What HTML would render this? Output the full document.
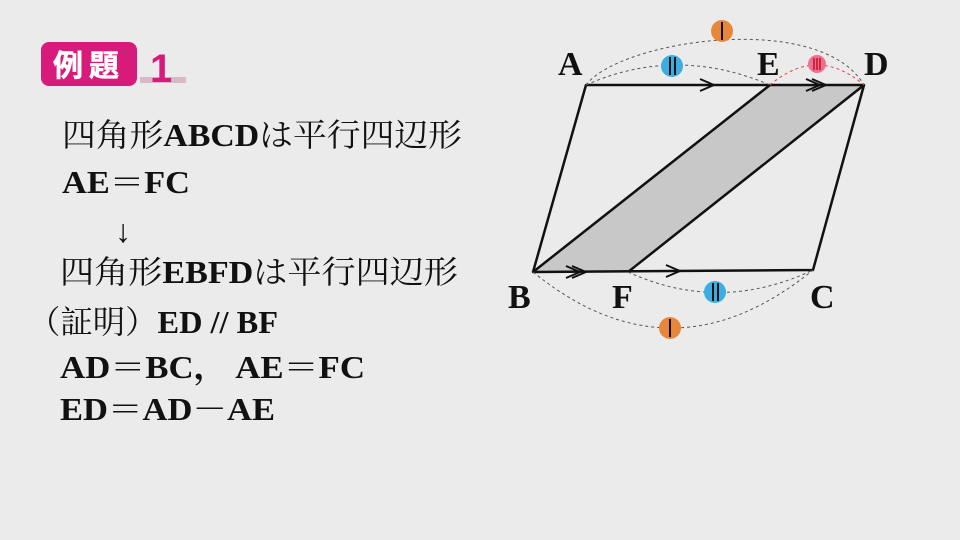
<!DOCTYPE html>
<html><head><meta charset="utf-8"><style>
html,body{margin:0;padding:0;background:#ebebeb;}
svg{display:block}
.t{font-family:"Liberation Serif","Noto Serif CJK SC","Noto Sans CJK JP",serif;font-size:32px;fill:#111}
.b{font-weight:bold}
.L{font-family:"Liberation Serif",serif;font-weight:bold;font-size:34px;fill:#111}
</style></head><body>
<svg width="960" height="540" viewBox="0 0 960 540">
<rect width="960" height="540" fill="#ebebeb"/>
<rect x="140" y="77" width="46" height="6" fill="#d9b8c8"/>
<rect x="41" y="42" width="96" height="44" rx="8" fill="#d81b7a"/>
<text x="89" y="76" text-anchor="middle" font-family="Noto Sans CJK JP,sans-serif" font-weight="bold" font-size="30" fill="#fff" stroke="#fff" stroke-width="0.5" letter-spacing="6">例題</text>
<text x="150" y="82" font-family="Liberation Sans,sans-serif" font-weight="bold" font-size="40" fill="#d81b7a">1</text>
<text class="t" x="62" y="146" textLength="400" lengthAdjust="spacingAndGlyphs">四角形<tspan class="b">ABCD</tspan>は平行四辺形</text>
<text class="t b" x="62" y="193" textLength="128" lengthAdjust="spacingAndGlyphs">AE＝FC</text>
<text class="t" x="115" y="242">↓</text>
<text class="t" x="60" y="283" textLength="398" lengthAdjust="spacingAndGlyphs">四角形<tspan class="b">EBFD</tspan>は平行四辺形</text>
<text class="t" x="28" y="333" textLength="250" lengthAdjust="spacingAndGlyphs">（証明）<tspan class="b">ED // BF</tspan></text>
<text class="t b" x="60" y="378" textLength="305" lengthAdjust="spacingAndGlyphs">AD＝BC，  AE＝FC</text>
<text class="t b" x="60" y="420" textLength="215" lengthAdjust="spacingAndGlyphs">ED＝AD－AE</text>
<polygon points="770,85 864,85 628,272 533,272" fill="#c8c8c8"/>
<g stroke="#111" stroke-width="2.5" fill="none" stroke-linejoin="round">
<polygon points="586,85 864,85 813,270 533,272"/>
<line x1="770" y1="85" x2="533" y2="272"/>
<line x1="864" y1="85" x2="628" y2="272"/>
<polyline points="700,79 714,85 700,91" stroke-width="2"/>
<polyline points="806,79 820,85 806,91" stroke-width="2"/>
<polyline points="812,79 826,85 812,91" stroke-width="2"/>
<polyline points="566,266 580,272 566,278" stroke-width="2"/>
<polyline points="572,266 586,272 572,278" stroke-width="2"/>
<polyline points="666,265 680,271 666,277" stroke-width="2"/>
</g>
<g fill="none" stroke="#555" stroke-width="1" stroke-dasharray="3,3">
<path d="M586,85 C620,40 820,10 864,85"/>
<path d="M586,85 Q676,45 770,85"/>
<path d="M628,272 Q720,314 813,270"/>
<path d="M533,272 Q672,385 813,270"/>
</g>
<path d="M770,85 Q817,45 864,85" fill="none" stroke="#e04040" stroke-width="1" stroke-dasharray="3,3"/>
<circle cx="722" cy="31" r="11" fill="#e8873a"/><line x1="722" y1="22" x2="722" y2="40" stroke="#111" stroke-width="2"/>
<circle cx="672" cy="66" r="11" fill="#3aaee0"/><line x1="670" y1="57" x2="670" y2="75" stroke="#111" stroke-width="2"/><line x1="675" y1="57" x2="675" y2="75" stroke="#111" stroke-width="2"/>
<circle cx="817" cy="64" r="9" fill="#f07090"/><g stroke="#c01020" stroke-width="1.5"><line x1="814" y1="58" x2="814" y2="70"/><line x1="817" y1="58" x2="817" y2="70"/><line x1="820" y1="58" x2="820" y2="70"/></g>
<circle cx="715" cy="292" r="11" fill="#3aaee0"/><line x1="713" y1="283" x2="713" y2="301" stroke="#111" stroke-width="2"/><line x1="718" y1="283" x2="718" y2="301" stroke="#111" stroke-width="2"/>
<circle cx="670" cy="328" r="11" fill="#e8873a"/><line x1="670" y1="319" x2="670" y2="337" stroke="#111" stroke-width="2"/>
<text class="L" x="558" y="75">A</text>
<text class="L" x="757" y="75">E</text>
<text class="L" x="864" y="75">D</text>
<text class="L" x="508" y="308">B</text>
<text class="L" x="612" y="308">F</text>
<text class="L" x="810" y="308">C</text>
</svg>
</body></html>
